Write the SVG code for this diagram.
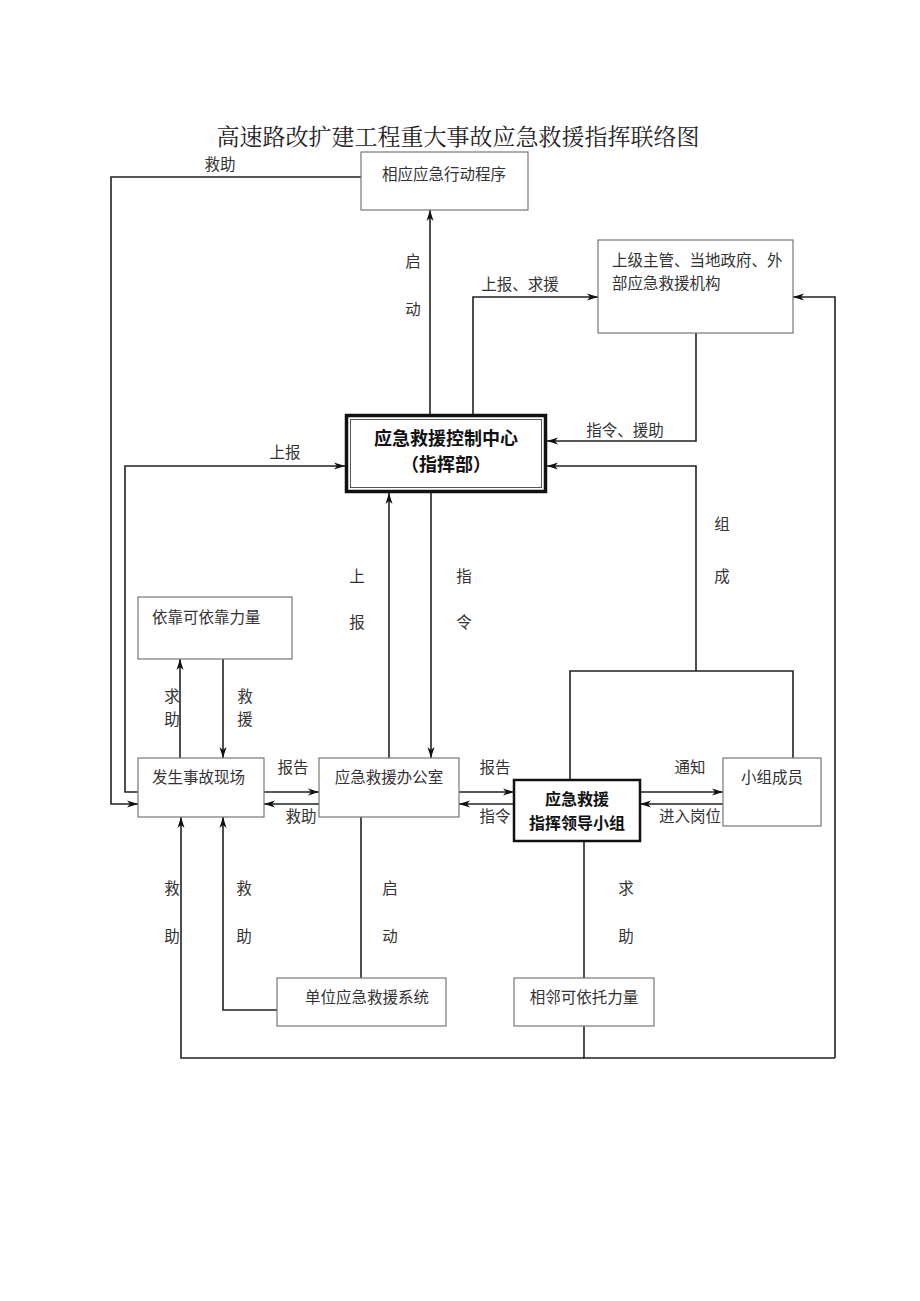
<svg xmlns="http://www.w3.org/2000/svg" width="920" height="1301" viewBox="0 0 920 1301">
<style>
text{font-family:"Noto Sans CJK SC","Noto Sans",sans-serif;fill:#333;font-size:15.5px}
.t{font-family:"Noto Serif CJK SC","Noto Sans CJK SC",serif;font-size:23px;fill:#222}
.b{font-weight:bold;fill:#111;font-size:16px}
.box{fill:#fff;stroke:#777;stroke-width:1.2}
.c{fill:none;stroke:#222;stroke-width:1.6}
.a{marker-end:url(#ar)}
</style>
<defs>
<marker id="ar" markerUnits="userSpaceOnUse" markerWidth="12" markerHeight="8" refX="11" refY="4" orient="auto">
<path d="M0,0.5 L11,4 L0,7.5 L3,4 z" fill="#111"/>
</marker>
</defs>
<rect width="920" height="1301" fill="#fff"/>
<text class="t" x="458" y="145" text-anchor="middle">高速路改扩建工程重大事故应急救援指挥联络图</text>

<g id="connectors">
<path class="c a" d="M361,177 H111 V804 H138"/>
<path class="c a" d="M430,414 V210"/>
<path class="c a" d="M473,414 V297 H598"/>
<path class="c a" d="M835,1058 V297 H793"/>
<path class="c a" d="M696,333 V441 H547"/>
<path class="c a" d="M138,792 H125 V466 H345"/>
<path class="c a" d="M696,671 V466 H547"/>
<path class="c" d="M570,780 V671 H793 V758"/>
<path class="c a" d="M389,758 V493"/>
<path class="c a" d="M431,493 V758"/>
<path class="c a" d="M180,758 V659"/>
<path class="c a" d="M223,659 V758"/>
<path class="c a" d="M264,792 H319"/>
<path class="c a" d="M319,804 H264"/>
<path class="c a" d="M459,792 H514"/>
<path class="c a" d="M514,804 H459"/>
<path class="c a" d="M640,792 H723"/>
<path class="c a" d="M723,804 H640"/>
<path class="c" d="M361,817 V978"/>
<path class="c a" d="M277,1010 H223 V817"/>
<path class="c a" d="M584,1058 H181 V817"/>
<path class="c" d="M584,841 V978"/>
<path class="c" d="M584,1026 V1058 H835"/>
<text x="220" y="170" text-anchor="middle">救助</text>
<text x="413" y="267" text-anchor="middle">启</text>
<text x="413" y="315" text-anchor="middle">动</text>
<text x="520" y="290" text-anchor="middle">上报、求援</text>
<text x="625" y="436" text-anchor="middle">指令、援助</text>
<text x="285" y="458" text-anchor="middle">上报</text>
<text x="722" y="530" text-anchor="middle">组</text>
<text x="722" y="582" text-anchor="middle">成</text>
<text x="357" y="582" text-anchor="middle">上</text>
<text x="357" y="628" text-anchor="middle">报</text>
<text x="464" y="582" text-anchor="middle">指</text>
<text x="464" y="628" text-anchor="middle">令</text>
<text x="172" y="702" text-anchor="middle">求</text>
<text x="172" y="725" text-anchor="middle">助</text>
<text x="245" y="702" text-anchor="middle">救</text>
<text x="245" y="725" text-anchor="middle">援</text>
<text x="293" y="773" text-anchor="middle">报告</text>
<text x="301" y="822" text-anchor="middle">救助</text>
<text x="495" y="773" text-anchor="middle">报告</text>
<text x="495" y="822" text-anchor="middle">指令</text>
<text x="690" y="773" text-anchor="middle">通知</text>
<text x="690" y="822" text-anchor="middle">进入岗位</text>
<text x="172" y="894" text-anchor="middle">救</text>
<text x="172" y="942" text-anchor="middle">助</text>
<text x="244" y="894" text-anchor="middle">救</text>
<text x="244" y="942" text-anchor="middle">助</text>
<text x="390" y="894" text-anchor="middle">启</text>
<text x="390" y="942" text-anchor="middle">动</text>
<text x="626" y="894" text-anchor="middle">求</text>
<text x="626" y="942" text-anchor="middle">助</text>
</g>

<g id="n-program"><rect class="box" x="361" y="152" width="167" height="58"/><text x="444" y="180" text-anchor="middle">相应应急行动程序</text></g>
<g id="n-superior"><rect class="box" x="598" y="240" width="195" height="93"/><text x="612" y="266">上级主管、当地政府、外</text><text x="612" y="289">部应急救援机构</text></g>
<g id="n-center">
<rect x="346.5" y="415.5" width="199" height="76" fill="#fff" stroke="#111" stroke-width="3.5"/>
<rect x="350.5" y="419.5" width="191" height="68" fill="none" stroke="#555" stroke-width="1"/>
<text class="b" x="446" y="445" text-anchor="middle" style="font-size:18px">应急救援控制中心</text>
<text class="b" x="446" y="471" text-anchor="middle" style="font-size:18px">（指挥部）</text>
</g>
<g id="n-rely"><rect class="box" x="138" y="597" width="154" height="62"/><text x="152" y="623">依靠可依靠力量</text></g>
<g id="n-scene"><rect class="box" x="138" y="758" width="126" height="59"/><text x="152" y="783">发生事故现场</text></g>
<g id="n-office"><rect class="box" x="319" y="758" width="140" height="59"/><text x="389" y="783" text-anchor="middle">应急救援办公室</text></g>
<g id="n-leader"><rect x="514" y="780" width="126" height="61" fill="#fff" stroke="#111" stroke-width="2.5"/><text class="b" x="577" y="805" text-anchor="middle">应急救援</text><text class="b" x="577" y="829" text-anchor="middle">指挥领导小组</text></g>
<g id="n-members"><rect class="box" x="723" y="758" width="98" height="68"/><text x="772" y="783" text-anchor="middle">小组成员</text></g>
<g id="n-unit"><rect class="box" x="277" y="978" width="169" height="48"/><text x="367" y="1003" text-anchor="middle">单位应急救援系统</text></g>
<g id="n-neighbor"><rect class="box" x="514" y="978" width="140" height="48"/><text x="584" y="1003" text-anchor="middle">相邻可依托力量</text></g>
</svg>
